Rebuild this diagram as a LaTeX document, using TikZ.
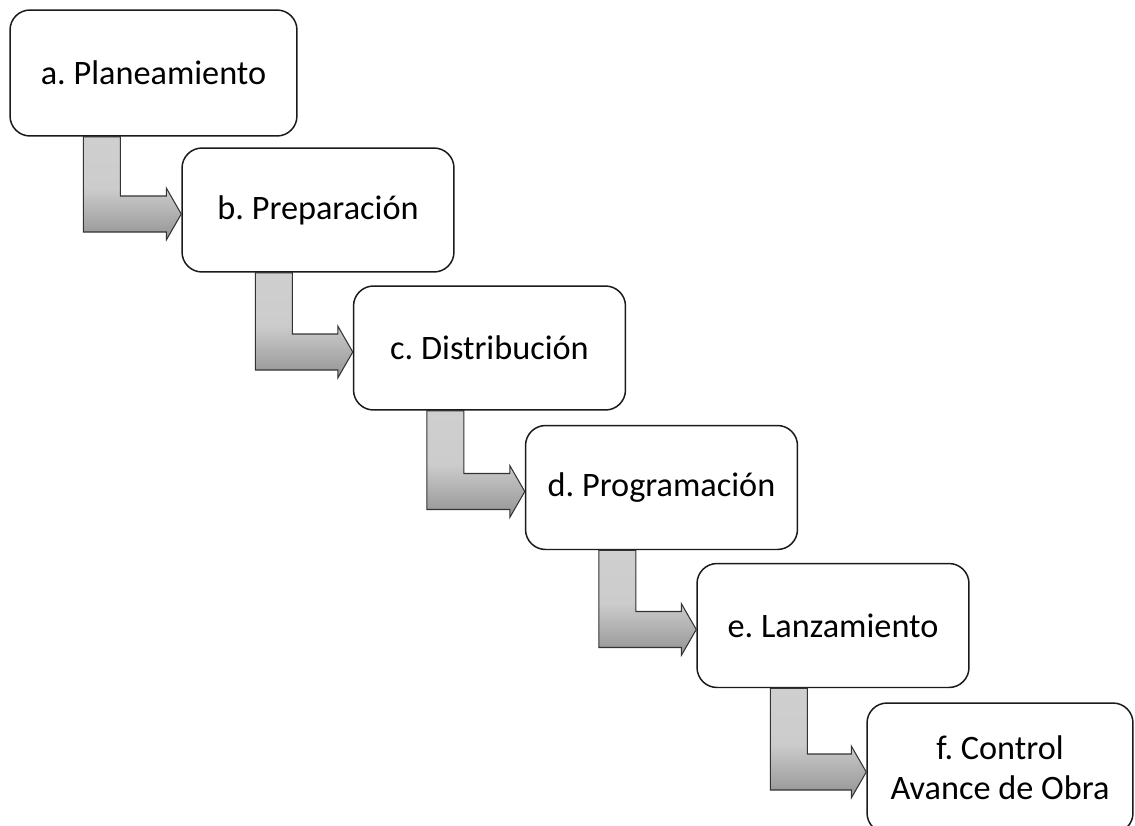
\documentclass[tikz,border=0pt]{standalone}
\usepackage{fontspec}
\setmainfont{Carlito}
\frenchspacing
\usetikzlibrary{calc, backgrounds}
\definecolor{StepLine}{HTML}{1A1A1A}
\definecolor{ArrowLine}{HTML}{333333}
\definecolor{ArrowLight}{HTML}{CFCFCF}
\definecolor{ArrowDark}{HTML}{939393}
\tikzset{
    stage/.style={draw=StepLine, line width=0.85pt, rounded corners=0.4cm,
        fill=white, align=center, inner sep=2pt,
        minimum width=5.44cm, minimum height=2.48cm,
        font=\fontsize{19.5}{22.7}\selectfont},
    flow/.style={draw=ArrowLine, line width=0.6pt, line join=miter,
        top color=ArrowLight, bottom color=ArrowDark, middle color=gray!40}
}
% bent block arrow: down out of #1, then right into #2
\NewDocumentCommand{\BentArrow}{m m}{
    \coordinate (#1-stem) at ($(#1.south west)+(74,0)$);
    \coordinate (#1-tip) at ($(#2.west)+(0,4)$);
    \draw[flow] (#1-stem) -- ++(37,0)
        -- ($(#1-stem |- #1-tip)+(37,-18)$)
        -- ($(#1-tip)+(-15,-18)$) -- ($(#1-tip)+(-15,-26)$)
        -- (#1-tip)
        -- ($(#1-tip)+(-15,26)$) -- ($(#1-tip)+(-15,18)$)
        -- ($(#1-stem |- #1-tip)+(0,18)$) -- cycle;
}

\begin{document}
\begin{tikzpicture}[x=0.02cm, y=-0.02cm]
\useasboundingbox (0,0) rectangle (1135,825);

\node[stage, minimum width=5.74cm, minimum height=2.52cm] (plan) at (153.5,73) {a. Planeamiento};
\node[stage] (prep) at (318,210) {b. Preparación};
\node[stage] (dist) at (489.5,348) {c. Distribución};
\node[stage] (prog) at (661.5,487.5) {d. Programación};
\node[stage] (lanz) at (833,625.5) {e. Lanzamiento};
\node[stage, minimum width=5.32cm, minimum height=2.6cm] (ctrl) at (1000,768) {f. Control\\Avance de Obra};

\BentArrow{plan}{prep}
\BentArrow{prep}{dist}
\BentArrow{dist}{prog}
\BentArrow{prog}{lanz}
\BentArrow{lanz}{ctrl}

\end{tikzpicture}
\end{document}
